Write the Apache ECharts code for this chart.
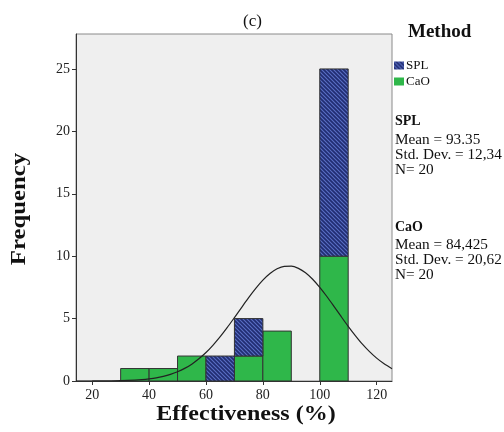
<!DOCTYPE html>
<html>
<head>
<meta charset="utf-8">
<script src="https://cdn.jsdelivr.net/npm/echarts@6/dist/echarts.min.js"></script>
<style>
  html, body { margin: 0; padding: 0; background: #fff; }
  #main { width: 504px; height: 432px; }
</style>
</head>
<body>
<div id="main"></div>
<script>
// histogram bins (left edge, width 10)
const binStarts = [30, 40, 50, 60, 70, 80, 100];
const binWidth = 10;
const caoCounts = [1, 1, 2, 0, 2, 4, 10];
const splCounts = [0, 0, 0, 2, 3, 0, 15];

// fitted normal curve
const curveX = [14.3, 20, 25, 30, 35, 37.5, 40, 42.5, 45, 47.5, 50, 52.5, 55, 57.5, 60, 62.5, 65, 67.5, 70, 72.5, 75, 77.5, 80,
  82.5, 85, 87.5, 90, 92.5, 95, 97.5, 100, 102.5, 105, 107.5, 110, 112.5, 115, 117.5, 120, 122.5, 125.4];
const curveY = [0.001, 0.003, 0.01, 0.028, 0.072, 0.11, 0.17, 0.25, 0.37, 0.53, 0.74, 1.01, 1.35, 1.78, 2.28, 2.88, 3.55, 4.29, 5.08, 5.88, 6.68, 7.42, 8.08,
  8.61, 8.99, 9.19, 9.2, 9.02, 8.67, 8.15, 7.5, 6.77, 5.98, 5.17, 4.38, 3.64, 2.95, 2.35, 1.83, 1.4, 0.99];

const xTicks = [20, 40, 60, 80, 100, 120];
const yTicks = [0, 5, 10, 15, 20, 25];

const serif = "Liberation Serif";
const green = "#2fb74a";

// hatched fill for SPL
let makeHatch = () => {
  const c = document.createElement("canvas");
  c.width = 4;
  c.height = 4;
  const ctx = c.getContext("2d");
  ctx.fillStyle = "#212d72";
  ctx.fillRect(0, 0, 4, 4);
  ctx.strokeStyle = "#5a6fc4";
  ctx.lineWidth = 1.1;
  ctx.beginPath();
  ctx.moveTo(-1, -1); ctx.lineTo(5, 5);
  ctx.moveTo(-1, 3); ctx.lineTo(1, 5);
  ctx.moveTo(3, -1); ctx.lineTo(5, 1);
  ctx.stroke();
  return { image: c, repeat: "repeat" };
};
const hatch = makeHatch();

const caoData = [];
const splData = [];
binStarts.forEach((x, i) => {
  if (caoCounts[i] > 0) caoData.push([x, x + binWidth, 0, caoCounts[i]]);
  if (splCounts[i] > 0) splData.push([x, x + binWidth, caoCounts[i], caoCounts[i] + splCounts[i]]);
});

let rectRender = (fill) => (params, api) => {
  const p0 = api.coord([api.value(0), api.value(3)]);
  const p1 = api.coord([api.value(1), api.value(2)]);
  return {
    type: "rect",
    shape: { x: p0[0], y: p0[1], width: p1[0] - p0[0], height: p1[1] - p0[1] },
    style: { fill: fill, stroke: "#333", lineWidth: 1 },
  };
};

const chart = echarts.init(document.getElementById("main"));
const option = {
  animation: false,
  textStyle: { fontFamily: serif },
  title: {
    text: "(c)",
    left: 238,
    top: 8,
    textStyle: { fontFamily: serif, fontWeight: "normal", fontSize: 17, color: "#111" },
  },
  legend: {
    orient: "vertical",
    left: 394,
    top: 59,
    padding: 0,
    itemWidth: 10,
    itemHeight: 8,
    itemGap: 3,
    icon: "rect",
    data: ["SPL", "CaO"],
    textStyle: { fontFamily: serif, fontSize: 13, color: "#111", padding: [0, 0, 0, -3] },
  },
  grid: {
    left: 76,
    right: 112,
    top: 34,
    bottom: 51,
    outerBoundsMode: "none",
    containLabel: false,
    show: true,
    backgroundColor: "#efefef",
    borderColor: "#8a8a8a",
    borderWidth: 1,
  },
  xAxis: {
    type: "value",
    min: 14.3,
    max: 125.4,
    splitLine: { show: false },
    axisLine: { lineStyle: { color: "#333" } },
    axisTick: { show: true, length: 4, customValues: xTicks, lineStyle: { color: "#333" } },
    axisLabel: { customValues: xTicks, margin: 7, fontFamily: serif, fontSize: 14, color: "#222" },
  },
  yAxis: {
    type: "value",
    min: 0,
    max: 27.8,
    splitLine: { show: false },
    axisLine: { show: true, lineStyle: { color: "#333" } },
    axisTick: { show: true, length: 4, customValues: yTicks, lineStyle: { color: "#333" } },
    axisLabel: { customValues: yTicks, margin: 6, fontFamily: serif, fontSize: 14, color: "#222" },
  },
  graphic: [
    // axis titles (stretched a little, as in the source figure)
    {
      type: "text", x: 246, y: 415, scaleX: 1.2,
      style: { text: "Effectiveness (%)", font: "bold 20px " + serif, fill: "#111", align: "center", verticalAlign: "middle" },
    },
    {
      type: "text", x: 20, y: 209, rotation: Math.PI / 2, scaleX: 1.18,
      style: { text: "Frequency", font: "bold 21px " + serif, fill: "#111", align: "center", verticalAlign: "middle" },
    },
    { type: "text", x: 408, y: 23, style: { text: "Method", font: "bold 19px " + serif, fill: "#111" } },
    { type: "text", x: 395, y: 114, style: { text: "SPL", font: "bold 14px " + serif, fill: "#111" } },
    {
      type: "text", x: 395, y: 133, scaleX: 1.09,
      style: { text: "Mean = 93.35\nStd. Dev. = 12,34\nN= 20", font: "14px " + serif, lineHeight: 15, fill: "#111" },
    },
    { type: "text", x: 395, y: 220, style: { text: "CaO", font: "bold 14px " + serif, fill: "#111" } },
    {
      type: "text", x: 395, y: 238, scaleX: 1.09,
      style: { text: "Mean = 84,425\nStd. Dev. = 20,62\nN= 20", font: "14px " + serif, lineHeight: 15, fill: "#111" },
    },
  ],
  series: [
    {
      name: "CaO",
      type: "custom",
      itemStyle: { color: green },
      renderItem: rectRender(green),
      encode: { x: [0, 1], y: [2, 3] },
      data: caoData,
    },
    {
      name: "SPL",
      type: "custom",
      itemStyle: { color: hatch },
      renderItem: rectRender(hatch),
      encode: { x: [0, 1], y: [2, 3] },
      data: splData,
    },
    {
      name: "curve",
      type: "line",
      smooth: 0.3,
      showSymbol: false,
      lineStyle: { color: "#222", width: 1.2 },
      data: curveX.map((x, i) => [x, curveY[i]]),
      z: 5,
    },
  ],
};
chart.setOption(option);
</script>
</body>
</html>
